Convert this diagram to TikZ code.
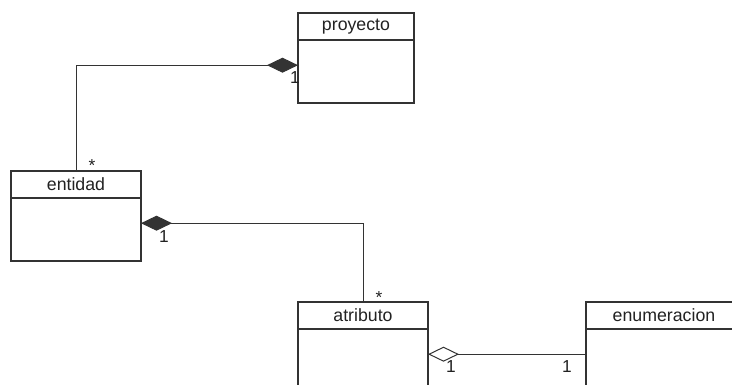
\documentclass[tikz,border=0pt]{standalone}
\usepackage{fontspec}
\setmainfont{Liberation Sans}
\usepackage{xcolor}
\usepackage{tikz}
\usetikzlibrary{calc,arrows.meta,positioning}
\definecolor{umlline}{HTML}{333333}
\definecolor{umltext}{HTML}{222222}
\tikzset{
  head/.style={draw=umlline,line width=0.8pt,rectangle,anchor=north west,minimum height=20.25pt,inner sep=0pt,outer sep=0pt,text=umltext,font=\fontsize{13.3}{15}\selectfont},
  body/.style={draw=umlline,line width=0.8pt,rectangle,minimum height=47.25pt,inner sep=0pt,outer sep=0pt},
  link/.style={umlline,line width=0.75pt},
  comp/.style={link,{Diamond[length=23.25pt,width=11.25pt,umlline]}-},
  aggr/.style={link,{Diamond[open,length=23.25pt,width=11.25pt,fill=white,umlline]}-},
  mult/.style={inner sep=0pt,text=umltext,font=\fontsize{13}{15}\selectfont}
}
\begin{document}
\begin{tikzpicture}[x=0.75pt,y=-0.75pt]
\path[use as bounding box,clip] (0,0) rectangle (732,385);
% classes
\node[head,minimum width=87pt] (proyecto-head) at (298,13) {proyecto};
\node[body,minimum width=87pt,below=0pt of proyecto-head] (proyecto-body) {};
\node[head,minimum width=97.5pt] (entidad-head) at (11,171) {entidad};
\node[body,minimum width=97.5pt,below=0pt of entidad-head] (entidad-body) {};
\node[head,minimum width=97.5pt] (atributo-head) at (298,302) {atributo};
\node[body,minimum width=97.5pt,below=0pt of atributo-head] (atributo-body) {};
\node[head,minimum width=117pt] (enumeracion-head) at (586,302) {enumeracion};
\node[body,minimum width=117pt,below=0pt of enumeracion-head] (enumeracion-body) {};
% connector ends
\coordinate (pA) at ($(proyecto-body.north west)!0.4!(proyecto-body.south west)$);
\coordinate (pB) at ($(entidad-body.north east)!0.4!(entidad-body.south east)$);
\coordinate (pC) at ($(atributo-body.north east)!0.4!(atributo-body.south east)$);
\coordinate (pD) at ($(enumeracion-body.north west)!0.4!(enumeracion-body.south west)$);
% associations
\draw[comp] (pA) -| (entidad-head.north);
\draw[comp] (pB) -| (atributo-head.north);
\draw[aggr] (pC) -- (pD);
% multiplicities
\node[mult] (m1) at ($(pA)+(-3,12.5)$) {1};
\node[mult] (m2) at ($(entidad-head.north)+(16,-5)$) {*};
\node[mult] (m3) at ($(pB)+(23,13)$) {1};
\node[mult] (m4) at ($(atributo-head.north)+(16,-4)$) {*};
\node[mult] (m5) at ($(pC)+(23,12)$) {1};
\node[mult] (m6) at ($(pD)+(-19,12)$) {1};
\end{tikzpicture}
\end{document}
